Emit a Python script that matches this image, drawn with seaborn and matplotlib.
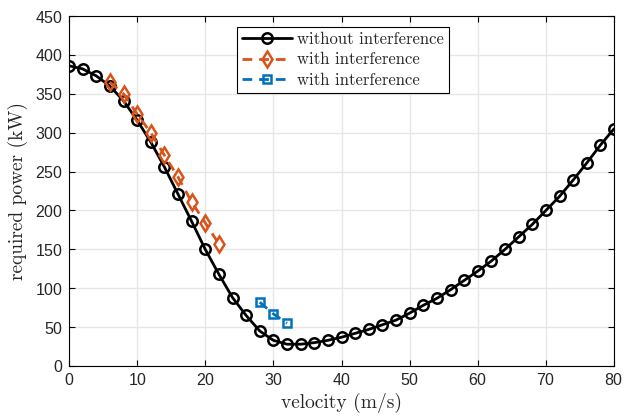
import numpy as np
import pandas as pd
import seaborn as sns
from matplotlib import pyplot as plt

# velocity (m/s) and required power (kW)
v_free = list(range(0, 82, 2))
p_free = [386, 382, 373, 360, 341, 316, 288, 256, 221, 186, 150, 118, 88, 65, 45, 33,
          28, 28, 30, 33, 37, 42, 47, 53, 59, 68, 78, 87, 98, 110, 122, 135, 150, 166,
          182, 200, 218, 239, 261, 284, 305]

v_int1 = [6, 8, 10, 12, 14, 16, 18, 20, 22]
p_int1 = [365, 350, 324, 300, 271, 243, 211, 184, 157]

v_int2 = [28, 30, 32]
p_int2 = [82, 67, 55]

sns.set_style("whitegrid")
plt.rcParams['axes.formatter.use_mathtext'] = True

fig = plt.figure(figsize=(6.25, 4.19), dpi=100)
ax = fig.add_axes([0.1104, 0.1265, 0.872, 0.8353])

df1 = pd.DataFrame({"v": v_free, "p": p_free})
df2 = pd.DataFrame({"v": v_int1, "p": p_int1})
df3 = pd.DataFrame({"v": v_int2, "p": p_int2})

sns.lineplot(data=df1, x="v", y="p", ax=ax, color="black", lw=2, marker="o",
             markersize=7.5, markerfacecolor="none", markeredgecolor="black",
             markeredgewidth=1.8, label="without interference")
sns.lineplot(data=df2, x="v", y="p", ax=ax, color="#D95319", lw=2, marker="d",
             markersize=8.5, markerfacecolor="none", markeredgecolor="#D95319",
             markeredgewidth=1.8, dashes=(3.5, 2.5), label="with interference")
sns.lineplot(data=df3, x="v", y="p", ax=ax, color="#0072BD", lw=2, marker="s",
             markersize=6, markerfacecolor="none", markeredgecolor="#0072BD",
             markeredgewidth=1.8, dashes=(3.5, 2.5), label="with interference")

ax.set_xlim(0, 80)
ax.set_ylim(0, 450)
ax.set_xticks(range(0, 81, 10))
ax.set_yticks(range(0, 451, 50))
ax.grid(True, color="#e6e6e6", lw=1)
for s in ax.spines.values():
    s.set_color("black")
    s.set_linewidth(0.8)
ax.tick_params(direction="in", length=4, colors="black", labelsize=11.5,
               top=True, right=True, bottom=True, left=True, pad=4)
for t in ax.get_xticklabels() + ax.get_yticklabels():
    t.set_fontfamily("Liberation Sans")
    t.set_color("#262626")

ax.set_xlabel("velocity (m/s)", fontfamily="cmr10", fontsize=14, labelpad=4)
ax.set_ylabel("required power (kW)", fontfamily="cmr10", fontsize=14, labelpad=5)

leg = ax.legend(loc="upper left", bbox_to_anchor=(0.308, 0.969), borderaxespad=0,
                frameon=True, fancybox=False, edgecolor="black", framealpha=1,
                prop={"family": "cmr10", "size": 12}, handlelength=3,
                borderpad=0.3, labelspacing=0.3, handletextpad=0.3)
leg.get_frame().set_linewidth(0.8)

fig.savefig("out.png", dpi=100)
